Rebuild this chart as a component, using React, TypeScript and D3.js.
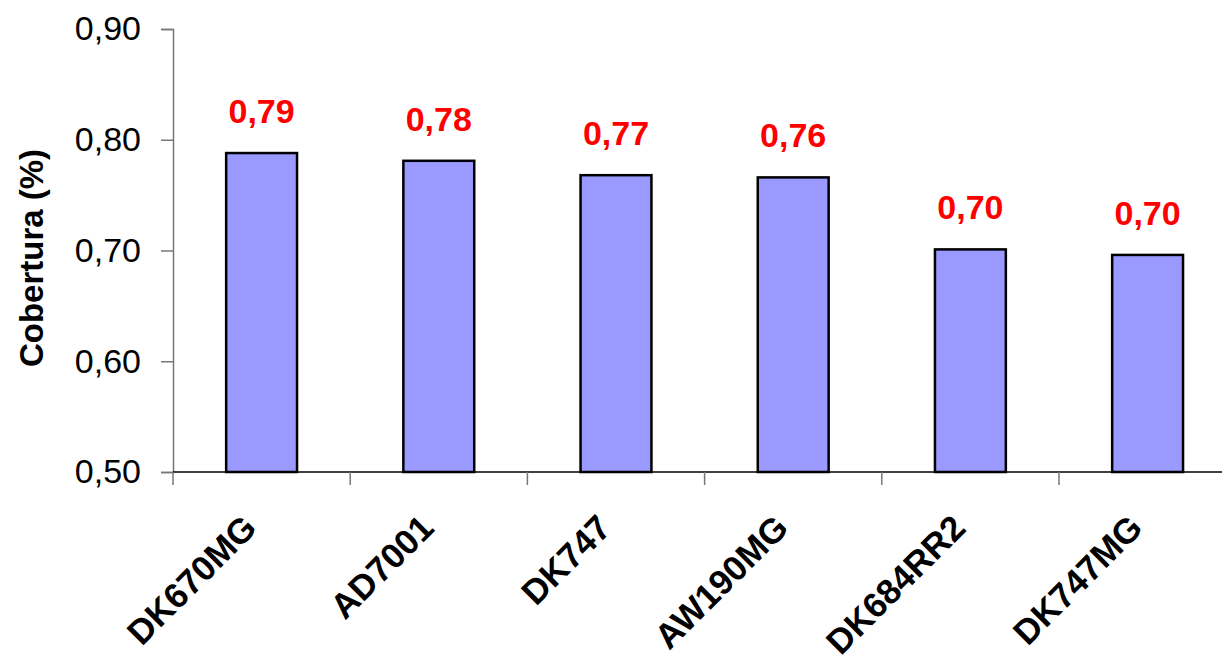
import { useEffect, useRef } from 'react';
import * as d3 from 'd3';

const categories = ['DK670MG', 'AD7001', 'DK747', 'AW190MG', 'DK684RR2', 'DK747MG'];
const coverage = [0.788, 0.781, 0.768, 0.766, 0.701, 0.696];
const valueLabels = ['0,79', '0,78', '0,77', '0,76', '0,70', '0,70'];
const yTicks = [0.5, 0.6, 0.7, 0.8, 0.9];

const W = 1222;
const H = 665;

export default function App() {
  const svgRef = useRef<SVGSVGElement>(null);

  useEffect(() => {
    if (!svgRef.current) return;
    document.body.style.margin = '0';

    const svg = d3.select(svgRef.current);
    svg.selectAll('*').remove();

    const left = 173;
    const top = 29;
    const bottom = 472;
    const band = 177.2;

    const x = d3.scaleBand<string>()
      .domain(categories)
      .range([left, left + band * categories.length])
      .paddingInner(0)
      .paddingOuter(0);

    const y = d3.scaleLinear().domain([0.5, 0.9]).range([bottom, top]);

    const font = 'Arial, "Liberation Sans", Helvetica, sans-serif';
    const fmt = (v: number) => d3.format('.2f')(v).replace('.', ',');

    // y axis
    const yAxis = svg.append('g').attr('transform', `translate(${left},0)`)
      .call(d3.axisLeft(y).tickValues(yTicks).tickSize(12).tickPadding(20).tickFormat(d => fmt(d as number)));
    yAxis.select('.domain').attr('stroke', '#777').attr('stroke-width', 1.5);
    yAxis.selectAll('.tick line').attr('stroke', '#777').attr('stroke-width', 1.5);
    yAxis.selectAll('.tick text')
      .attr('font-family', font)
      .attr('font-size', 34)
      .attr('fill', '#000')
      .attr('dy', '0.32em');

    // bars
    const barW = x.bandwidth() * 0.4;
    svg.append('g').selectAll('rect')
      .data(categories)
      .join('rect')
      .attr('x', d => (x(d) as number) + (x.bandwidth() - barW) / 2)
      .attr('y', (_, i) => y(coverage[i]))
      .attr('width', barW)
      .attr('height', (_, i) => bottom - y(coverage[i]))
      .attr('fill', '#9999FF')
      .attr('stroke', '#000')
      .attr('stroke-width', 2.5);

    // value labels
    svg.append('g').selectAll('text')
      .data(categories)
      .join('text')
      .attr('x', d => (x(d) as number) + x.bandwidth() / 2)
      .attr('y', (_, i) => y(coverage[i]) - 30)
      .attr('text-anchor', 'middle')
      .attr('font-family', font)
      .attr('font-weight', 'bold')
      .attr('font-size', 34)
      .attr('fill', '#FF0000')
      .text((_, i) => valueLabels[i]);

    // x axis
    svg.append('line')
      .attr('x1', left).attr('x2', W)
      .attr('y1', bottom).attr('y2', bottom)
      .attr('stroke', '#000').attr('stroke-width', 1.5);
    svg.append('g').selectAll('line')
      .data(d3.range(categories.length + 1))
      .join('line')
      .attr('x1', i => left + i * x.step())
      .attr('x2', i => left + i * x.step())
      .attr('y1', bottom)
      .attr('y2', bottom + 13)
      .attr('stroke', '#777')
      .attr('stroke-width', 1.5);

    svg.append('g').selectAll('text')
      .data(categories)
      .join('text')
      .attr('transform', d => `translate(${(x(d) as number) + x.bandwidth() / 2 - 3},${bottom + 58}) rotate(-45)`)
      .attr('text-anchor', 'end')
      .attr('font-family', font)
      .attr('font-weight', 'bold')
      .attr('font-size', 35)
      .attr('fill', '#000')
      .text(d => d);

    // y title
    svg.append('text')
      .attr('transform', `translate(43,${258}) rotate(-90)`)
      .attr('text-anchor', 'middle')
      .attr('font-family', font)
      .attr('font-weight', 'bold')
      .attr('font-size', 33)
      .attr('fill', '#000')
      .text('Cobertura (%)');
  }, []);

  return (
    <svg
      ref={svgRef}
      width={W}
      height={H}
      style={{ display: 'block', background: '#fff', overflow: 'hidden' }}
    />
  );
}
